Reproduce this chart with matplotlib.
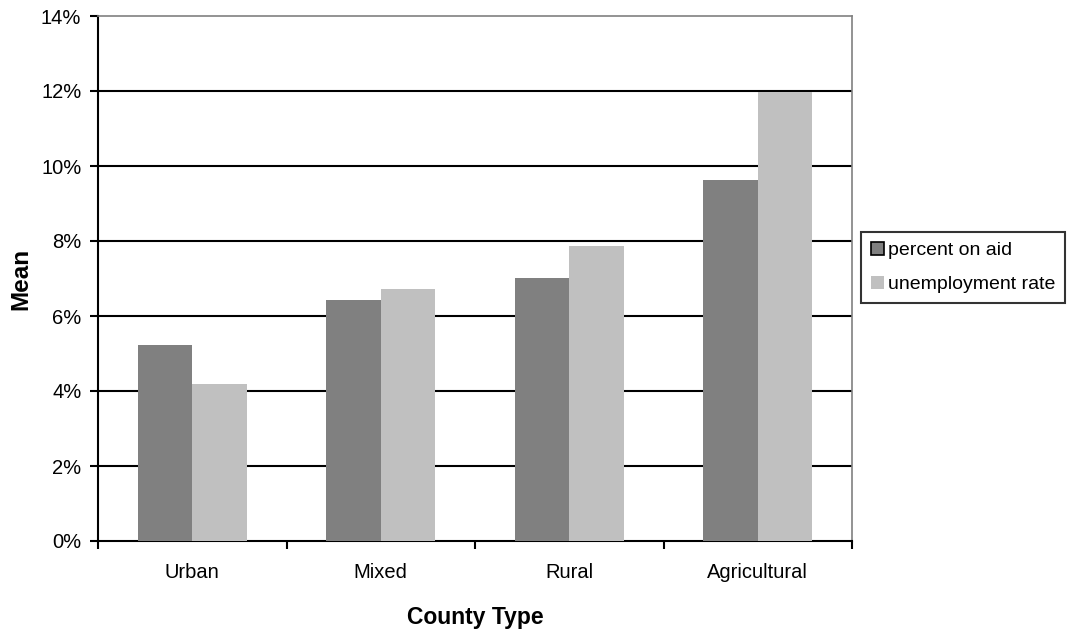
import matplotlib
matplotlib.use("Agg")
import matplotlib.pyplot as plt
import numpy as np

plt.rcParams["font.family"] = ["Liberation Sans", "DejaVu Sans"]

county_types = ["Urban", "Mixed", "Rural", "Agricultural"]
percent_on_aid = [5.23, 6.43, 7.02, 9.63]
unemployment_rate = [4.18, 6.73, 7.87, 11.97]
series_labels = ["percent on aid", "unemployment rate"]
y_ticks = [0, 2, 4, 6, 8, 10, 12, 14]

DARK = "#808080"
LIGHT = "#c0c0c0"

fig = plt.figure(figsize=(10.68, 6.33), dpi=100)
ax = fig.add_axes([98 / 1068, 92 / 633, 754 / 1068, 525 / 633])

x = np.arange(len(county_types))
w = 0.29
ax.bar(x - w / 2, percent_on_aid, w, color=DARK, label=series_labels[0], zorder=3)
ax.bar(x + w / 2, unemployment_rate, w, color=LIGHT, label=series_labels[1], zorder=3)

ax.set_xlim(-0.5, len(county_types) - 0.5)
ax.set_ylim(0, 14)
ax.set_yticks(y_ticks)
ax.set_yticklabels([f"{v}%" for v in y_ticks])

# category labels sit between the boundary ticks
ax.set_xticks(np.arange(len(county_types) + 1) - 0.5)
ax.set_xticklabels([])
ax.set_xticks(x, minor=True)
ax.set_xticklabels(county_types, minor=True)
ax.tick_params(axis="x", which="minor", length=0, pad=16, labelsize=14.5)
ax.tick_params(axis="x", which="major", length=6, width=1.5, direction="out")
ax.tick_params(axis="y", length=6, width=1.5, direction="out", pad=6, labelsize=14.5)

for v in y_ticks[1:-1]:
    ax.axhline(v, color="black", lw=1.5, zorder=1)

for side in ("left", "bottom"):
    ax.spines[side].set_color("black")
    ax.spines[side].set_linewidth(1.5)
for side in ("top", "right"):
    ax.spines[side].set_color("#808080")
    ax.spines[side].set_linewidth(1.2)

ax.set_xlabel("County Type", fontsize=16.5, fontweight="bold", labelpad=17)
ax.set_ylabel("Mean", fontsize=17.5, fontweight="bold", labelpad=6)

leg = ax.legend(loc="upper left", bbox_to_anchor=(861 / 1068, 1 - 232 / 633),
                bbox_transform=fig.transFigure, fontsize=14, frameon=True,
                fancybox=False, edgecolor="black", handlelength=0.7,
                handleheight=0.7, handletextpad=0.2, borderpad=0.5,
                labelspacing=0.85, borderaxespad=0)
leg.get_frame().set_linewidth(1.5)
leg.legend_handles[0].set_edgecolor("black")
leg.legend_handles[0].set_linewidth(1.2)

fig.savefig("out.png", dpi=100)
